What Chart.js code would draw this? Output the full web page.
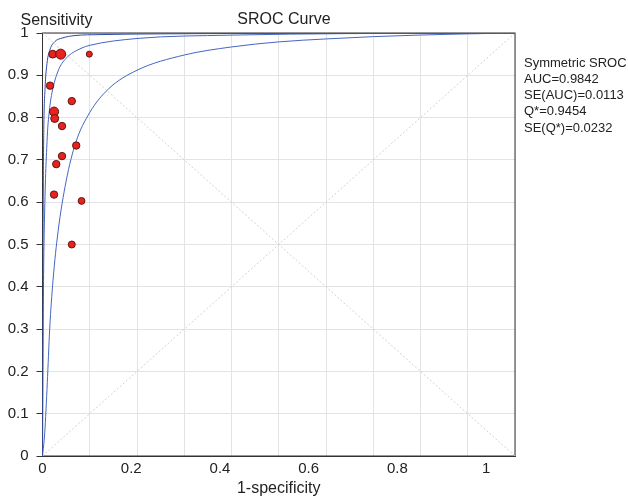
<!DOCTYPE html>
<html>
<head>
<meta charset="utf-8">
<script src="https://cdn.jsdelivr.net/npm/chart.js@4.4.1/dist/chart.umd.min.js"></script>
<style>
  html, body { margin: 0; padding: 0; background: #fff; }
  #wrap { width: 628px; height: 496px; }
</style>
</head>
<body>
<div id="wrap"><canvas id="srocChart" width="628" height="496"></canvas></div>
<script>
// study points (1-specificity, sensitivity)
const studyFpr  = [0.023, 0.041, 0.1055, 0.017, 0.066, 0.026, 0.0275, 0.044, 0.076, 0.044, 0.031, 0.026, 0.088, 0.066];
const studySens = [0.950, 0.950, 0.950, 0.8755, 0.839, 0.814, 0.798, 0.780, 0.734, 0.709, 0.690, 0.618, 0.603, 0.500];
const pointRadii = [3.9, 5.0, 3.0, 3.7, 3.7, 4.6, 4.0, 3.7, 3.7, 3.7, 3.7, 3.7, 3.4, 3.5];

// SROC curve and the two outer curves
const innerX = [0, 0.0007, 0.0016, 0.0029, 0.0056, 0.0101, 0.0169, 0.0282, 0.044, 0.0733, 0.1297, 0.265, 0.5806, 1.065];
const innerY = [0, 0.369, 0.606, 0.771, 0.866, 0.928, 0.961, 0.980, 0.988, 0.994, 0.9962, 0.998, 0.9993, 1];

const sroc_X = [0, 0.002, 0.0045, 0.0106, 0.0162, 0.0214, 0.035, 0.053, 0.0868, 0.107, 0.213, 0.425, 0.693, 1.065];
const sroc_Y = [0, 0.375, 0.56, 0.752, 0.823, 0.859, 0.910, 0.940, 0.9637, 0.971, 0.987, 0.995, 0.9986, 1];

const outerX = [0, 0.005, 0.0108, 0.0162, 0.0237, 0.035, 0.0533, 0.0746, 0.1065, 0.149, 0.213, 0.3196, 0.426, 0.5327, 0.639, 0.746, 0.852, 0.959, 1.065];
const outerY = [0, 0.054, 0.173, 0.300, 0.415, 0.530, 0.650, 0.740, 0.812, 0.868, 0.912, 0.948, 0.967, 0.979, 0.986, 0.9914, 0.9952, 0.998, 1];

const diagUpX = [0, 1.065];
const diagUpY = [0, 1];
const diagDownX = [0, 1.065];
const diagDownY = [1, 0];

const xTickValues = [0, 0.2, 0.4, 0.6, 0.8, 1];
const yTickValues = [0, 0.1, 0.2, 0.3, 0.4, 0.5, 0.6, 0.7, 0.8, 0.9, 1];
const boxGrid = [0, 0.1, 0.2, 0.3, 0.4, 0.5, 0.6, 0.7, 0.8, 0.9, 1];

const statLines = ['Symmetric SROC', 'AUC=0.9842', 'SE(AUC)=0.0113', 'Q*=0.9454', 'SE(Q*)=0.0232'];

const FONT = "'Liberation Sans', Arial, sans-serif";

function pts(xs, ys) {
    return xs.map((x, i) => ({ x: x, y: ys[i] }));
}

function tickText(v) {
    return String(Math.round(v * 10) / 10);
}

const curveStyle = {
    type: 'line',
    borderColor: '#4565c2',
    borderWidth: 1,
    pointRadius: 0,
    fill: false,
    cubicInterpolationMode: 'monotone'
};

const extras = {
    id: 'extras',
    beforeDatasetsDraw(chart) {
        const a = chart.chartArea;
        const c = chart.ctx;
        c.save();
        c.strokeStyle = '#333';
        c.lineWidth = 1;
        c.strokeRect(a.left, a.top, a.right - a.left, a.bottom - a.top);
        c.restore();
    },
    afterDraw(chart) {
        const c = chart.ctx;
        c.save();
        c.fillStyle = '#222';
        c.textBaseline = 'middle';
        c.font = '16px ' + FONT;
        c.textAlign = 'left';
        c.fillText('Sensitivity', 20.5, 21);
        c.textAlign = 'center';
        c.fillText('SROC Curve', 284, 20);
        c.textAlign = 'left';
        c.font = '13px ' + FONT;
        statLines.forEach((t, i) => c.fillText(t, 524, 63 + i * 16.3));
        c.restore();
    }
};

const ctx = document.getElementById('srocChart').getContext('2d');
new Chart(ctx, {
    type: 'scatter',
    data: {
        datasets: [
            {
                label: 'Studies',
                data: pts(studyFpr, studySens),
                backgroundColor: '#e8231f',
                borderColor: '#5e1512',
                borderWidth: 1,
                pointRadius: pointRadii,
                pointHoverRadius: pointRadii
            },
            Object.assign({ label: 'Inner', data: pts(innerX, innerY) }, curveStyle, { borderColor: '#2e4aa8' }),
            Object.assign({ label: 'SROC', data: pts(sroc_X, sroc_Y) }, curveStyle),
            Object.assign({ label: 'Outer', data: pts(outerX, outerY) }, curveStyle),
            {
                type: 'line', label: 'diag1', data: pts(diagUpX, diagUpY),
                borderColor: '#d2d2d2', borderWidth: 1, borderDash: [2, 2], pointRadius: 0, fill: false
            },
            {
                type: 'line', label: 'diag2', data: pts(diagDownX, diagDownY),
                borderColor: '#d2d2d2', borderWidth: 1, borderDash: [2, 2], pointRadius: 0, fill: false
            }
        ]
    },
    options: {
        responsive: false,
        animation: false,
        devicePixelRatio: 1,
        layout: { padding: { left: 0, right: 113, top: 33, bottom: 0 } },
        plugins: {
            legend: { display: false },
            tooltip: { enabled: false }
        },
        scales: {
            x: {
                type: 'linear',
                position: 'bottom',
                min: 0,
                max: 1.065,
                afterBuildTicks: s => { s.ticks = xTickValues.map(v => ({ value: v })); },
                afterFit: s => { s.height = 40; },
                grid: { display: false, drawTicks: false },
                border: { display: true, color: '#333', width: 1 },
                ticks: { padding: 4, color: '#222', font: { family: FONT, size: 15 }, maxRotation: 0, callback: tickText },
                title: { display: true, text: '1-specificity', color: '#222', font: { family: FONT, size: 16 }, padding: { top: 0, bottom: -2 } }
            },
            xg: {
                type: 'linear',
                position: 'top',
                min: 0,
                max: 1,
                afterBuildTicks: s => { s.ticks = boxGrid.map(v => ({ value: v })); },
                afterFit: s => { s.height = 0; },
                grid: { display: true, color: '#e3e3e3', drawTicks: false },
                border: { display: false },
                ticks: { display: false }
            },
            y: {
                type: 'linear',
                min: 0,
                max: 1,
                afterBuildTicks: s => { s.ticks = yTickValues.map(v => ({ value: v })); },
                afterFit: s => { s.width = 42.5; },
                grid: { display: true, color: '#e3e3e3', drawTicks: true, tickLength: 6, tickColor: '#333' },
                border: { display: true, color: '#333', width: 1 },
                ticks: { padding: 8, color: '#222', font: { family: FONT, size: 15 }, callback: tickText }
            }
        }
    },
    plugins: [extras]
});
</script>
</body>
</html>
